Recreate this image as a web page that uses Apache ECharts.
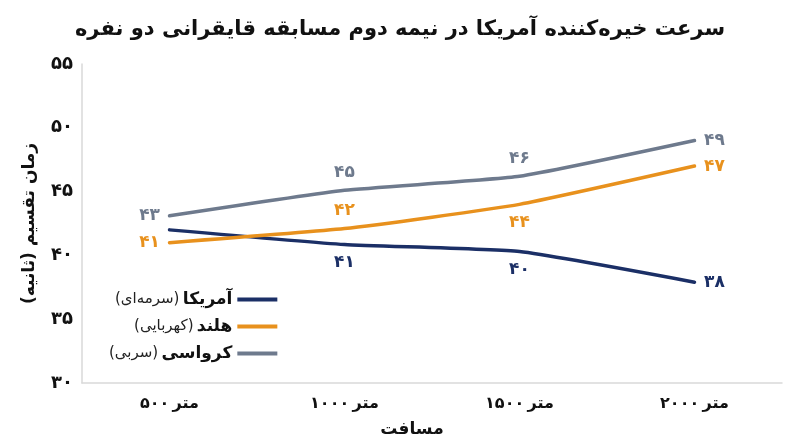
<!DOCTYPE html>
<html lang="fa">
<head>
<meta charset="UTF-8">
<title>سرعت خیره‌کننده آمریکا</title>
<script src="https://cdn.jsdelivr.net/npm/echarts@6/dist/echarts.min.js"></script>
<style>
  html, body { margin: 0; padding: 0; background: #fff; }
  #chart { width: 800px; height: 447px; }
</style>
</head>
<body>
<div id="chart"></div>
<script>
// داده‌ها
var categories = ['۵۰۰ متر', '۱۰۰۰ متر', '۱۵۰۰ متر', '۲۰۰۰ متر'];
var usaValues = [42.0, 40.85, 40.3, 37.9];
var nedValues = [41.0, 42.1, 44.0, 47.0];
var croValues = [43.1, 45.1, 46.2, 49.0];
var usaLabels = ['', '۴۱', '۴۰', '۳۸'];
var nedLabels = ['۴۱', '۴۲', '۴۴', '۴۷'];
var croLabels = ['۴۳', '۴۵', '۴۶', '۴۹'];
var seriesNames = ['آمریکا', 'هلند', 'کرواسی'];
var seriesNotes = ['(سرمه‌ای)', '(کهربایی)', '(سربی)'];

var FONT = 'DejaVu Sans';
var colors = ['#1b2f66', '#e8911d', '#6e7a8d'];

function toFa(n) {
    return String(n).replace(/[0-9]/g, function (d) { return '۰۱۲۳۴۵۶۷۸۹'[d]; });
}

function makeSeries(idx, values, labels, positions) {
    var data = [];
    for (var i = 0; i < values.length; i++) {
        data.push({
            value: values[i],
            label: { show: labels[i] !== '', position: positions[i], formatter: labels[i] }
        });
    }
    return {
        name: seriesNames[idx],
        type: 'line',
        smooth: 0.15,
        symbol: 'circle',
        symbolSize: 1,
        showSymbol: true,
        lineStyle: { width: 3.5, color: colors[idx], cap: 'round' },
        itemStyle: { color: colors[idx] },
        label: {
            show: true,
            distance: 9,
            color: colors[idx],
            fontFamily: FONT,
            fontWeight: 'bold',
            fontSize: 17
        },
        data: data
    };
}

var myChart = echarts.init(document.getElementById('chart'));

var option = {
    backgroundColor: '#fff',
    color: colors,
    title: {
        text: 'سرعت خیره‌کننده آمریکا در نیمه دوم مسابقه قایقرانی دو نفره',
        left: 'center',
        top: 14,
        textStyle: { fontFamily: FONT, fontWeight: 'bold', fontSize: 21, color: '#111' }
    },
    legend: {
        orient: 'vertical',
        left: 104,
        top: 286,
        align: 'right',
        itemWidth: 40,
        itemHeight: 4,
        itemGap: 10,
        icon: 'rect',
        data: seriesNames,
        formatter: function (name) {
            var i = seriesNames.indexOf(name);
            return '{n|' + seriesNotes[i] + '} {b|' + name + '}';
        },
        textStyle: {
            rich: {
                n: { fontFamily: FONT, fontSize: 15, color: '#222', height: 19 },
                b: { fontFamily: FONT, fontSize: 17, fontWeight: 'bold', color: '#111', height: 19 }
            }
        }
    },
    grid: { left: 82, right: 18, top: 64, bottom: 64 },
    xAxis: {
        type: 'category',
        data: categories,
        boundaryGap: true,
        axisLine: { lineStyle: { color: '#d9d9d9', width: 1.5 } },
        axisTick: { show: false },
        axisLabel: {
            margin: 13,
            // عدد سمت چپ، واژه سمت راست
            formatter: function (v) {
                var p = v.split(' ');
                return '{d|' + p[0] + '} {w|' + p[1] + '}';
            },
            rich: {
                d: { fontFamily: FONT, fontWeight: 'bold', fontSize: 16, color: '#111' },
                w: { fontFamily: FONT, fontWeight: 'bold', fontSize: 16, color: '#111' }
            }
        },
        name: 'مسافت',
        nameLocation: 'middle',
        nameGap: 38,
        nameTextStyle: {
            fontFamily: FONT,
            fontWeight: 'bold',
            fontSize: 17,
            color: '#111',
            padding: [0, 40, 0, 0]
        }
    },
    yAxis: {
        type: 'value',
        min: 30,
        max: 55,
        interval: 5,
        splitLine: { show: false },
        axisLine: { show: true, lineStyle: { color: '#d9d9d9', width: 1.5 } },
        axisTick: { show: false },
        axisLabel: {
            margin: 9,
            fontFamily: FONT,
            fontWeight: 'bold',
            fontSize: 18,
            color: '#111',
            formatter: function (v) { return toFa(v); }
        },
        name: '\u200Fزمان تقسیم (ثانیه)\u200F',
        nameLocation: 'middle',
        nameGap: 44,
        nameTextStyle: {
            fontFamily: FONT,
            fontWeight: 'bold',
            fontSize: 17,
            color: '#111'
        }
    },
    series: [
        makeSeries(0, usaValues, usaLabels, ['left', 'bottom', 'bottom', 'right']),
        makeSeries(1, nedValues, nedLabels, ['left', 'top', 'bottom', 'right']),
        makeSeries(2, croValues, croLabels, ['left', 'top', 'top', 'right'])
    ]
};
myChart.setOption(option);
</script>
</body>
</html>
